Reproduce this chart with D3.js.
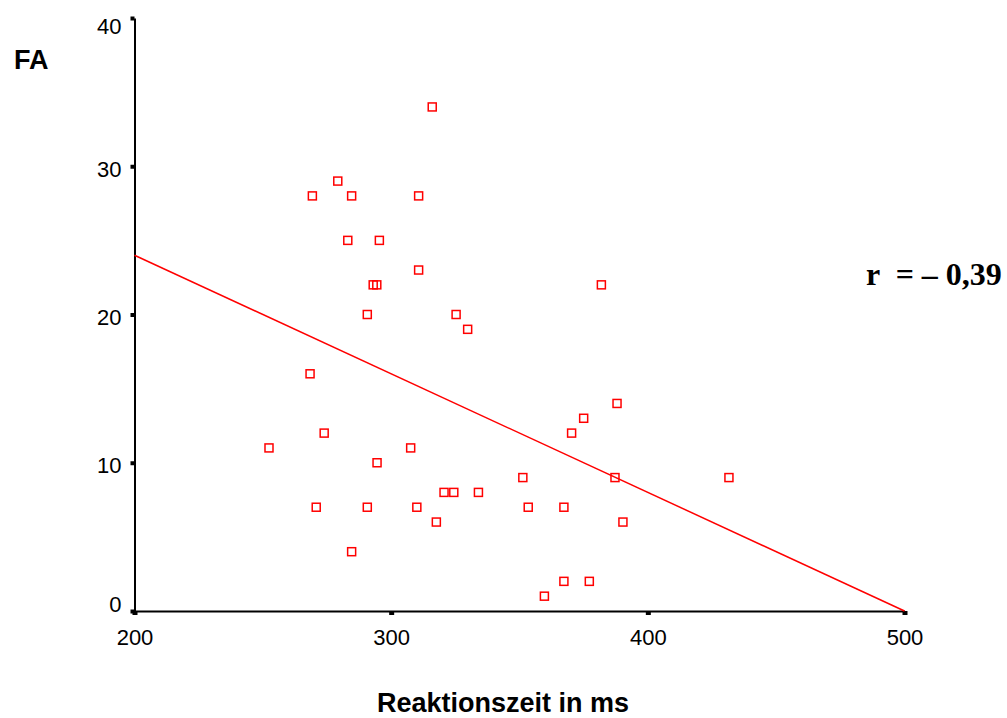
<!DOCTYPE html>
<html>
<head>
<meta charset="utf-8">
<script src="https://cdn.jsdelivr.net/npm/d3@7"></script>
<style>
  body { margin: 0; background: #fff; }
  svg { display: block; font-family: 'Liberation Sans', Arial, sans-serif; }
</style>
</head>
<body>
<svg width="1007" height="718"></svg>
<script>
// Data
const reaktionszeit = [
  316.0, 279.2, 269.3, 284.6, 310.7, 283.1, 295.4, 310.7, 293.0, 294.4,
  381.9, 290.7, 325.3, 329.8, 268.4, 388.0, 375.0, 370.3, 273.9, 252.4,
  307.6, 294.5, 351.3, 387.2, 431.6, 320.6, 324.4, 334.0, 270.8, 290.7,
  310.0, 353.4, 367.3, 317.6, 390.3, 284.6, 367.3, 377.2, 359.7
];
const fa = [
  34, 29, 28, 28, 28, 25, 25, 23, 22, 22,
  22, 20, 20, 19, 16, 14, 13, 12, 12, 11,
  11, 10, 9, 9, 9, 8, 8, 8, 7, 7,
  7, 7, 7, 6, 6, 4, 2, 2, 1
];
const xTicks = [200, 300, 400, 500];
const yTicks = [0, 10, 20, 30, 40];
const fitX = [200, 500];
const fitY = [24, 0];

// The svg
const svg = d3.select('svg');

const x = d3.scaleLinear().domain([200, 500]).range([134.5, 904.5]);
const y = d3.scaleLinear().domain([0, 40]).range([611, 18]);

// axes
const gx = svg
  .append('g')
  .attr('transform', 'translate(0,611)')
  .call(d3.axisBottom(x).tickValues(xTicks).tickSize(4).tickSizeOuter(0));
gx.select('.domain').attr('stroke', '#000').attr('stroke-width', 2);
gx.selectAll('.tick line').attr('stroke-width', 5);
gx.selectAll('.tick text')
  .attr('y', 18)
  .attr('font-size', 22)
  .attr('font-family', "'Liberation Sans', Arial, sans-serif")
  .attr('fill', '#000');

const gy = svg
  .append('g')
  .attr('transform', 'translate(134.5,0)')
  .call(d3.axisLeft(y).tickValues(yTicks).tickSize(4).tickSizeOuter(0));
gy.select('.domain').attr('stroke', '#000').attr('stroke-width', 2);
gy.selectAll('.tick line').attr('stroke-width', 4);
gy.selectAll('.tick text')
  .attr('x', -13)
  .attr('font-size', 22)
  .attr('font-family', "'Liberation Sans', Arial, sans-serif")
  .attr('fill', '#000')
  .attr('transform', function (d) {
    // labels sit a little inside the axis ends
    if (d === 40) return 'translate(0,8)';
    if (d === 0) return 'translate(0,-7)';
    return 'translate(0,3)';
  });

// regression line
svg
  .append('line')
  .attr('x1', x(fitX[0]))
  .attr('y1', y(fitY[0]))
  .attr('x2', x(fitX[1]))
  .attr('y2', y(fitY[1]))
  .attr('stroke', '#ff0000')
  .attr('stroke-width', 1.5);

// points
svg
  .append('g')
  .selectAll('rect')
  .data(reaktionszeit)
  .enter()
  .append('rect')
  .attr('x', function (d) { return x(d) - 4; })
  .attr('y', function (d, i) { return y(fa[i]) - 4; })
  .attr('width', 8)
  .attr('height', 8)
  .attr('fill', 'none')
  .attr('stroke', '#ff0000')
  .attr('stroke-width', 1.5);

// labels
svg
  .append('text')
  .attr('x', 14)
  .attr('y', 69)
  .attr('font-size', 27)
  .attr('font-weight', 'bold')
  .text('FA');

svg
  .append('text')
  .attr('x', 503)
  .attr('y', 712)
  .attr('text-anchor', 'middle')
  .attr('font-size', 27)
  .attr('font-weight', 'bold')
  .text('Reaktionszeit in ms');

svg
  .append('text')
  .attr('x', 866)
  .attr('y', 285)
  .attr('font-family', "'Liberation Serif', 'Times New Roman', serif")
  .attr('font-size', 32)
  .attr('font-weight', 'bold')
  .style('white-space', 'pre')
  .text('r  = – 0,39');
</script>
</body>
</html>
